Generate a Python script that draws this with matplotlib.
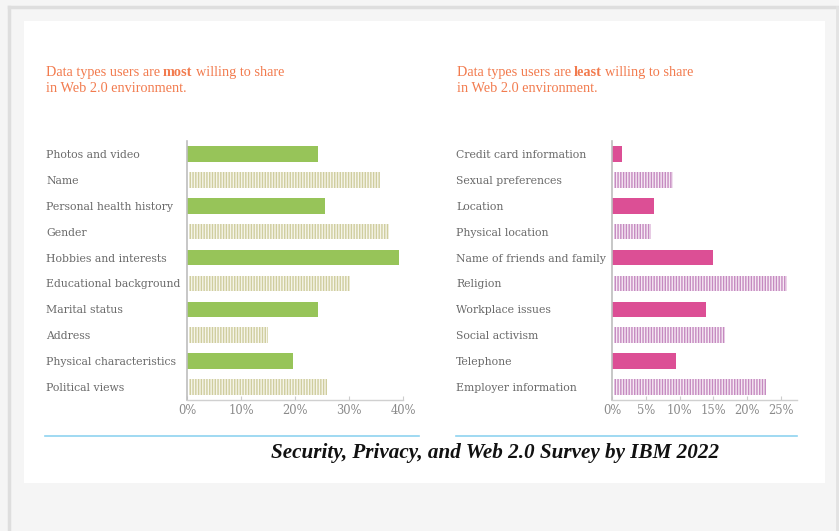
import matplotlib
matplotlib.use("Agg")
import matplotlib.pyplot as plt
from matplotlib.patches import Rectangle
from matplotlib.lines import Line2D

most_labels = ["Photos and video", "Name", "Personal health history", "Gender",
               "Hobbies and interests", "Educational background", "Marital status",
               "Address", "Physical characteristics", "Political views"]
most_values = [24.2, 35.3, 25.5, 37.1, 39.3, 29.9, 24.2, 14.6, 19.7, 25.6]

least_labels = ["Credit card information", "Sexual preferences", "Location",
                "Physical location", "Name of friends and family", "Religion",
                "Workplace issues", "Social activism", "Telephone", "Employer information"]
least_values = [1.5, 8.8, 6.2, 5.5, 15.0, 25.6, 13.9, 16.5, 9.5, 22.6]

most_ticks = [0, 10, 20, 30, 40]
least_ticks = [0, 5, 10, 15, 20, 25]

W, H = 839, 531
fig = plt.figure(figsize=(W / 100, H / 100), dpi=100)
fig.patch.set_facecolor("#f5f5f5")

def px(x, y, w, h):
    return [x / W, 1 - (y + h) / H, w / W, h / H]

# frame
fig.add_artist(Line2D([9 / W, 9 / W], [0, 1 - 7 / H], color="#dedede", lw=2.5, transform=fig.transFigure))
fig.add_artist(Line2D([9 / W, 1], [1 - 7 / H, 1 - 7 / H], color="#dedede", lw=2.5, transform=fig.transFigure))
fig.add_artist(Line2D([837 / W, 837 / W], [0, 1 - 7 / H], color="#e3e3e3", lw=2, transform=fig.transFigure))
fig.add_artist(Rectangle((24 / W, 1 - 483 / H), (825 - 24) / W, (483 - 21) / H,
                         facecolor="white", edgecolor="none", transform=fig.transFigure, zorder=0))

title_color = "#f27b4e"
label_color = "#6a6a6a"
tick_color = "#8a8a8a"

def panel(rect, labels, values, ticks, xmax, solid, stripe_face, stripe_col, pad):
    ax = fig.add_axes(rect)
    ax.set_facecolor("none")
    n = len(values)
    ys = list(range(n))
    for i, (y, v) in enumerate(zip(ys, values)):
        if i % 2 == 0:
            ax.barh(y, v, height=0.6, color=solid, edgecolor="none", zorder=2)
        else:
            ax.barh(y, v, left=0.009 * xmax, height=0.6, facecolor=stripe_face,
                    edgecolor=stripe_col, linewidth=0, hatch="||||||", zorder=2)
    ax.set_ylim(n - 0.5, -0.5)
    ax.set_xlim(0, xmax)
    ax.set_yticks(ys)
    ax.set_yticklabels(labels, fontsize=7.8, color=label_color, family="DejaVu Serif")
    for t in ax.get_yticklabels():
        t.set_horizontalalignment("left")
    ax.tick_params(axis="y", length=0, pad=pad)
    ax.set_xticks(ticks)
    ax.set_xticklabels([f"{t}%" for t in ticks], fontsize=8.3, color=tick_color, family="DejaVu Serif")
    ax.tick_params(axis="x", length=3, color="#cccccc", pad=3, direction="in")
    for s in ["top", "right"]:
        ax.spines[s].set_visible(False)
    ax.spines["left"].set_color("#bdbdbd")
    ax.spines["left"].set_linewidth(1.2)
    ax.spines["bottom"].set_color("#d0d0d0")
    ax.spines["bottom"].set_linewidth(1.0)
    return ax

panel(px(187, 141, 216, 259), most_labels, most_values, most_ticks, 40,
      "#97c459", "#f6f5ea", "#cfcd9e", 141 * 0.72)
panel(px(612, 141, 185, 259), least_labels, least_values, least_ticks, 185 / 6.76,
      "#dc4f95", "#f6e9f4", "#c58ac0", 156 * 0.72)

TS = 10.3
def title(x, word):
    r = fig.canvas.get_renderer()
    y1 = 1 - 76 / H
    t1 = fig.text(x / W, y1, "Data types users are", fontsize=TS, color=title_color,
                  family="Liberation Serif", va="baseline", ha="left")
    bb = t1.get_window_extent(r)
    t2 = fig.text((bb.x1 + 3) / W, y1, word, fontsize=TS, color=title_color,
                  family="Liberation Serif", weight="bold", va="baseline", ha="left")
    bb2 = t2.get_window_extent(r)
    fig.text((bb2.x1 + 3) / W, y1, "willing to share", fontsize=TS, color=title_color,
             family="Liberation Serif", va="baseline", ha="left")
    fig.text(x / W, 1 - 92 / H, "in Web 2.0 environment.", fontsize=TS, color=title_color,
             family="Liberation Serif", va="baseline", ha="left")

title(46, "most")
title(457, "least")

fig.add_artist(Line2D([45 / W, 419 / W], [1 - 436 / H] * 2, color="#8fd3f0", lw=1.2, transform=fig.transFigure))
fig.add_artist(Line2D([456 / W, 797 / W], [1 - 436 / H] * 2, color="#8fd3f0", lw=1.2, transform=fig.transFigure))

fig.text(495 / W, 1 - 453 / H, "Security, Privacy, and Web 2.0 Survey by IBM 2022", fontsize=15.2,
         family="Liberation Serif", weight="bold", style="italic", color="#111111",
         ha="center", va="center")

fig.savefig("out.png", dpi=100, facecolor=fig.get_facecolor())
